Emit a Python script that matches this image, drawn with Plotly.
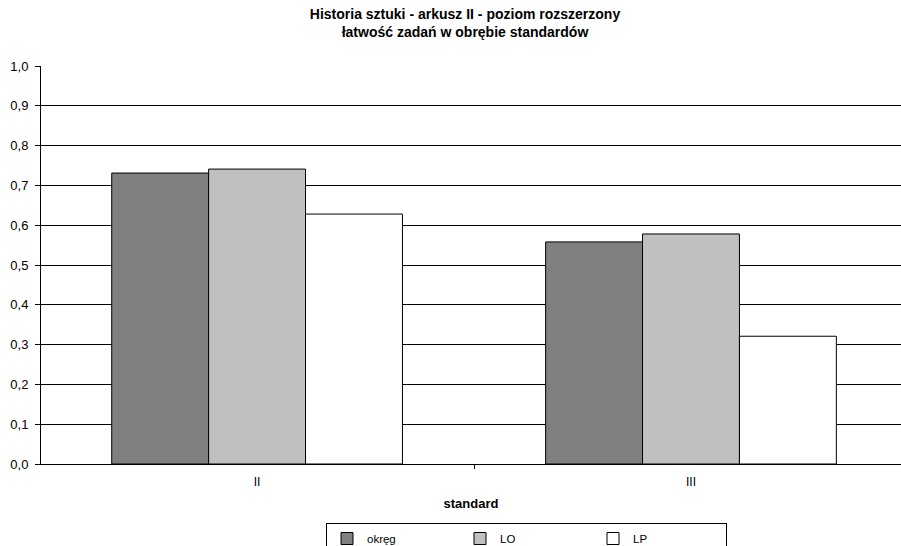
import plotly.graph_objects as go

categories = ["II", "III"]
series_names = ["okręg", "LO", "LP"]
okreg = [0.731, 0.558]
lo = [0.741, 0.578]
lp = [0.628, 0.321]
y_ticks = [0.0, 0.1, 0.2, 0.3, 0.4, 0.5, 0.6, 0.7, 0.8, 0.9, 1.0]

colors = ["#808080", "#c0c0c0", "#ffffff"]
FONT = "Liberation Sans, Arial, sans-serif"

fig = go.Figure()
for name, vals, col in zip(series_names, [okreg, lo, lp], colors):
    fig.add_trace(go.Bar(
        x=categories, y=vals, name=name,
        marker=dict(color=col, line=dict(color="#000000", width=1)),
    ))

fig.update_layout(
    width=901, height=546,
    margin=dict(l=41, r=0, t=66, b=82, autoexpand=False),
    paper_bgcolor="white", plot_bgcolor="white",
    font=dict(family=FONT, size=12, color="#000000"),
    separators=", ",
    barmode="group", bargap=0.33, bargroupgap=0,
    title=dict(
        text="<b>Historia sztuki - arkusz II - poziom rozszerzony<br>łatwość zadań w obrębie standardów</b>",
        x=465 / 901, xanchor="center", y=1 - 19 / 546, yanchor="middle",
        font=dict(family=FONT, size=14, color="#000000"),
    ),
    xaxis=dict(
        type="category", range=[-0.498, 1.484],
        showline=True, linecolor="#000000", linewidth=1,
        ticks="outside", tickson="boundaries", ticklen=4, tickcolor="#000000",
        ticklabelstandoff=7,
        showgrid=False,
        title=dict(text="<b>standard</b>", standoff=10, font=dict(size=13)),
        tickfont=dict(size=12),
    ),
    yaxis=dict(
        range=[0, 1.0], tickvals=y_ticks, tickformat=".1f",
        showline=True, linecolor="#000000", linewidth=1,
        ticks="outside", ticklen=5, tickcolor="#000000",
        ticklabelstandoff=4,
        showgrid=True, gridcolor="#000000", gridwidth=1,
        zeroline=False, tickfont=dict(size=13),
    ),
    legend=dict(
        orientation="h", x=(326 - 41) / 860, xanchor="left", y=(464 - 523) / 398, yanchor="top",
        bordercolor="#000000", borderwidth=1, bgcolor="white",
        font=dict(size=11.5), entrywidth=88, entrywidthmode="pixels",
        traceorder="normal",
    ),
)

fig.write_html(
    "out.html",
    config={"displayModeBar": False},
    post_script="document.body.style.margin='0';document.body.style.overflow='hidden';",
)
